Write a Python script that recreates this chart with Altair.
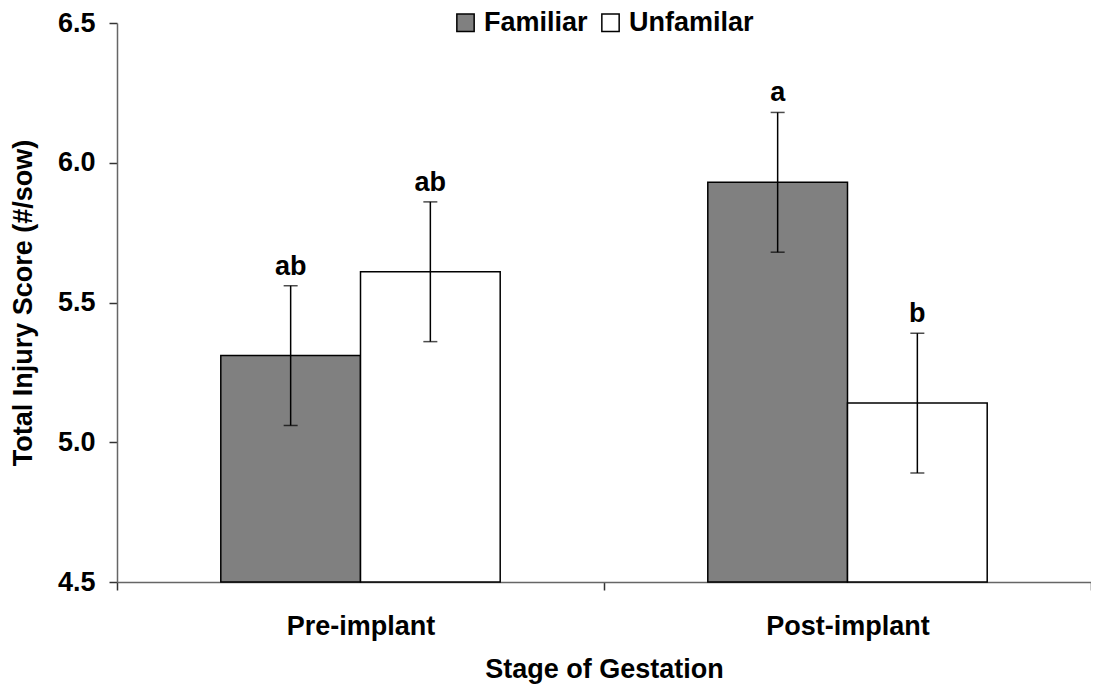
import altair as alt
import pandas as pd

stages = ["Pre-implant", "Pre-implant", "Post-implant", "Post-implant"]
groups = ["Familiar", "Unfamilar", "Familiar", "Unfamilar"]
means = [5.31, 5.61, 5.93, 5.14]
lows = [5.06, 5.36, 5.68, 4.89]
highs = [5.56, 5.86, 6.18, 5.39]
letters = ["ab", "ab", "a", "b"]

stage_order = ["Pre-implant", "Post-implant"]
group_order = ["Familiar", "Unfamilar"]
group_colors = ["#808080", "#ffffff"]
y_ticks = [4.5, 5.0, 5.5, 6.0, 6.5]

df = pd.DataFrame({
    "stage": stages, "group": groups, "mean": means,
    "low": lows, "high": highs, "letter": letters,
})

FONT = "Liberation Sans"
FS = 27

x_enc = alt.X("stage:N", sort=stage_order,
              scale=alt.Scale(paddingInner=0, paddingOuter=0),
              axis=alt.Axis(title="Stage of Gestation", labelAngle=0,
                            tickBand="extent", labelPadding=23,
                            titlePadding=17))
xo_enc = alt.XOffset("group:N", sort=group_order,
                     scale=alt.Scale(paddingInner=0, paddingOuter=0.743))
y_scale = alt.Scale(domain=[4.5, 6.5], zero=False, nice=False)

bars = alt.Chart(df).mark_bar(stroke="black", strokeWidth=1.5).encode(
    x=x_enc,
    xOffset=xo_enc,
    y=alt.Y("mean:Q", scale=y_scale,
            axis=alt.Axis(title="Total Injury Score (#/sow)", values=y_ticks,
                          format=".1f", labelPadding=14, titlePadding=20)),
    y2=alt.datum(4.5),
    color=alt.Color("group:N", sort=group_order,
                    scale=alt.Scale(domain=group_order, range=group_colors),
                    legend=alt.Legend(title=None, orient="none", direction="horizontal",
                                      legendX=335, legendY=-14,
                                      symbolType="square", symbolSize=300,
                                      symbolStrokeColor="black", symbolStrokeWidth=1.5,
                                      labelFont=FONT, labelFontSize=FS, labelFontWeight="bold",
                                      labelColor="black", labelOffset=5, columnPadding=9)),
)

err = alt.Chart(df).mark_rule(color="black", strokeWidth=1.5).encode(
    x=x_enc, xOffset=xo_enc,
    y=alt.Y("low:Q", scale=y_scale), y2="high:Q",
)

cap_hi = alt.Chart(df).mark_tick(color="black", orient="horizontal", size=14, thickness=1.5).encode(
    x=x_enc, xOffset=xo_enc, y=alt.Y("high:Q", scale=y_scale),
)
cap_lo = alt.Chart(df).mark_tick(color="black", orient="horizontal", size=14, thickness=1.5).encode(
    x=x_enc, xOffset=xo_enc, y=alt.Y("low:Q", scale=y_scale),
)

labels = alt.Chart(df).mark_text(font=FONT, fontSize=FS, fontWeight="bold",
                                 color="black", baseline="bottom", dy=-5).encode(
    x=x_enc, xOffset=xo_enc, y=alt.Y("high:Q", scale=y_scale), text="letter:N",
)

chart = alt.layer(bars, err, cap_hi, cap_lo, labels).properties(
    width=974, height=559,
    background="white",
    autosize=alt.AutoSizeParams(type="none"),
    padding={"left": 109, "top": 15, "right": 0, "bottom": 106},
).configure_view(stroke=None).configure_axis(
    labelFont=FONT, labelFontSize=FS, labelFontWeight="bold", labelColor="black",
    titleFont=FONT, titleFontSize=FS, titleFontWeight="bold", titleColor="black",
    domainColor="#666666", domainWidth=1.5, tickColor="#333333", tickWidth=1.5,
    tickSize=8, grid=False,
)

chart.save("out.html", embed_options={"renderer": "svg", "actions": False})
